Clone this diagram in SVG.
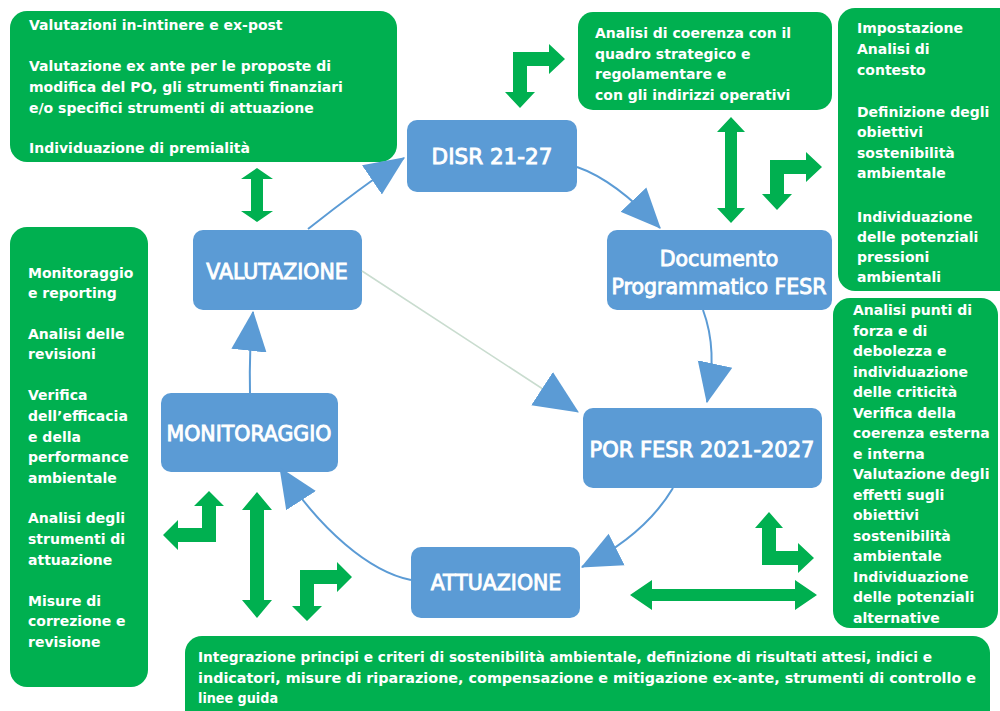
<svg xmlns="http://www.w3.org/2000/svg" width="1000" height="711" viewBox="0 0 1000 711">
<defs>
<style>
.gbox{fill:#00b050}
.bbox{fill:#5b9bd5}
.gt{font-family:"DejaVu Sans",Verdana,sans-serif;font-weight:bold;font-size:14px;fill:#ffffff}
.bt{font-family:"DejaVu Sans",Verdana,sans-serif;font-size:20.5px;fill:#ffffff;stroke:#ffffff;stroke-width:0.9;text-anchor:middle}
.ga{fill:#00b050}
.conn{fill:none;stroke:#5b9bd5;stroke-width:2}
.pale{fill:none;stroke:#c9dccf;stroke-width:1.6}
</style>
<marker id="head" markerUnits="userSpaceOnUse" markerWidth="40" markerHeight="40" viewBox="0 0 34 30" refX="33" refY="15" orient="auto">
<path d="M0,0 L34,15 L0,30 z" fill="#5b9bd5"/>
</marker>
<marker id="headL" markerUnits="userSpaceOnUse" markerWidth="44" markerHeight="44" viewBox="0 0 40 36" refX="39" refY="18" orient="auto">
<path d="M0,0 L40,18 L0,36 z" fill="#5b9bd5"/>
</marker>
</defs>
<rect width="1000" height="711" fill="#ffffff"/>

<!-- green boxes -->
<g id="box-valutazioni">
<rect class="gbox" x="10" y="11" width="387" height="151" rx="17"/>
<text class="gt"><tspan x="29" y="30">Valutazioni in-intinere e ex-post</tspan><tspan x="29" y="71">Valutazione ex ante per le proposte di</tspan><tspan x="29" y="92">modifica del PO, gli strumenti finanziari</tspan><tspan x="29" y="113">e/o specifici strumenti di attuazione</tspan><tspan x="29" y="153">Individuazione di premialità</tspan></text>
</g>
<g id="box-coerenza">
<rect class="gbox" x="578" y="12" width="254" height="98" rx="15"/>
<text class="gt"><tspan x="595" y="38">Analisi di coerenza con il</tspan><tspan x="595" y="59">quadro strategico e</tspan><tspan x="595" y="79">regolamentare e</tspan><tspan x="595" y="100">con gli indirizzi operativi</tspan></text>
</g>
<g id="box-impostazione">
<rect class="gbox" x="838" y="8" width="180" height="283" rx="17"/>
<text class="gt"><tspan x="857" y="33">Impostazione</tspan><tspan x="857" y="54">Analisi di</tspan><tspan x="857" y="75">contesto</tspan><tspan x="857" y="117">Definizione degli</tspan><tspan x="857" y="137">obiettivi</tspan><tspan x="857" y="158">sostenibilità</tspan><tspan x="857" y="178">ambientale</tspan><tspan x="857" y="222">Individuazione</tspan><tspan x="857" y="242">delle potenziali</tspan><tspan x="857" y="262">pressioni</tspan><tspan x="857" y="282">ambientali</tspan></text>
</g>
<g id="box-analisi-punti">
<rect class="gbox" x="833" y="298" width="165" height="330" rx="17"/>
<text class="gt"><tspan x="853" y="315">Analisi punti di</tspan><tspan x="853" y="335.5">forza e di</tspan><tspan x="853" y="356">debolezza e</tspan><tspan x="853" y="376.5">individuazione</tspan><tspan x="853" y="397">delle criticità</tspan><tspan x="853" y="417.5">Verifica della</tspan><tspan x="853" y="438">coerenza esterna</tspan><tspan x="853" y="458.5">e interna</tspan><tspan x="853" y="479">Valutazione degli</tspan><tspan x="853" y="499.5">effetti sugli</tspan><tspan x="853" y="520">obiettivi</tspan><tspan x="853" y="540.5">sostenibilità</tspan><tspan x="853" y="561">ambientale</tspan><tspan x="853" y="581.5">Individuazione</tspan><tspan x="853" y="602">delle potenziali</tspan><tspan x="853" y="622.5">alternative</tspan></text>
</g>
<g id="box-monitoraggio-attivita">
<rect class="gbox" x="10" y="227" width="138" height="460" rx="17"/>
<text class="gt"><tspan x="28" y="278">Monitoraggio</tspan><tspan x="28" y="298">e reporting</tspan><tspan x="28" y="339">Analisi delle</tspan><tspan x="28" y="359">revisioni</tspan><tspan x="28" y="400">Verifica</tspan><tspan x="28" y="421">dell’efficacia</tspan><tspan x="28" y="442">e della</tspan><tspan x="28" y="462">performance</tspan><tspan x="28" y="483">ambientale</tspan><tspan x="28" y="523">Analisi degli</tspan><tspan x="28" y="544">strumenti di</tspan><tspan x="28" y="565">attuazione</tspan><tspan x="28" y="606">Misure di</tspan><tspan x="28" y="626">correzione e</tspan><tspan x="28" y="647">revisione</tspan></text>
</g>
<g id="box-integrazione">
<rect class="gbox" x="185" y="636" width="805" height="95" rx="17"/>
<text class="gt"><tspan x="198" y="662" textLength="734" lengthAdjust="spacingAndGlyphs">Integrazione principi e criteri di sostenibilità ambientale, definizione di risultati attesi, indici e</tspan><tspan x="198" y="683" textLength="778" lengthAdjust="spacingAndGlyphs">indicatori, misure di riparazione, compensazione e mitigazione ex-ante, strumenti di controllo e</tspan><tspan x="198" y="703" textLength="80" lengthAdjust="spacingAndGlyphs">linee guida</tspan></text>
</g>

<!-- blue nodes -->
<g id="node-disr">
<rect class="bbox" x="407" y="120" width="170" height="72" rx="10"/>
<text class="bt" x="492" y="164" style="font-size:21.5px">DISR 21-27</text>
</g>
<g id="node-documento">
<rect class="bbox" x="607" y="230" width="225" height="80" rx="10"/>
<text class="bt" x="719" y="266">Documento</text>
<text class="bt" x="719" y="294">Programmatico FESR</text>
</g>
<g id="node-por">
<rect class="bbox" x="583" y="408" width="239" height="80" rx="10"/>
<text class="bt" x="702" y="457" style="font-size:21px">POR FESR 2021-2027</text>
</g>
<g id="node-attuazione">
<rect class="bbox" x="411" y="547" width="169" height="71" rx="10"/>
<text class="bt" x="496" y="590">ATTUAZIONE</text>
</g>
<g id="node-monitoraggio">
<rect class="bbox" x="161" y="393" width="177" height="79" rx="10"/>
<text class="bt" x="249" y="441">MONITORAGGIO</text>
</g>
<g id="node-valutazione">
<rect class="bbox" x="193" y="230" width="169" height="80" rx="10"/>
<text class="bt" x="277" y="279">VALUTAZIONE</text>
</g>

<!-- connectors -->
<g id="connectors">
<path class="conn" d="M308,229 Q360,188 404,158" marker-end="url(#head)"/>
<path class="conn" d="M577,167 Q615,180 660,228" marker-end="url(#head)"/>
<path class="conn" d="M703,310 Q718,350 707,402" marker-end="url(#head)"/>
<path class="conn" d="M673,488 Q645,535 582,567" marker-end="url(#head)"/>
<path class="conn" d="M411,580 C370,572 320,530 280,468" marker-end="url(#head)"/>
<path class="conn" d="M250,393 Q249,350 253,312" marker-end="url(#head)"/>
<path class="pale" d="M362,271 L578,412" marker-end="url(#headL)"/>
<!-- green block arrows -->
<polygon class="ga" points="257,168 273,179 263,179 263,211 273,211 257,222 241,211 251,211 251,179 241,179"/>
<polygon class="ga" points="731,117 745,132 737,132 737,208 745,208 731,223 717,208 725,208 725,132 717,132"/>
<polygon class="ga" points="257,492 272,510 264,510 264,600 272,600 257,618 242,600 250,600 250,510 242,510"/>
<polygon class="ga" points="630,595 652,580 652,589 795,589 795,580 817,595 795,610 795,601 652,601 652,610"/>
<polygon class="ga" points="513,52 549,52 549,44 565,59 549,74 549,66 527,66 527,92 535,92 520,108 505,92 513,92"/>
<polygon class="ga" points="770,160 806,160 806,152 822,167 806,182 806,174 784,174 784,194 792,194 777,210 762,194 770,194"/>
<polygon class="ga" points="762,565 762,528 755,528 769,512 783,528 776,528 776,551 798,551 798,543 814,558 798,573 798,565"/>
<polygon class="ga" points="216,542 216,506 224,506 209,491 194,506 202,506 202,528 178,528 178,520 163,535 178,550 178,542"/>
<polygon class="ga" points="300,570 337,570 337,562 352,577 337,592 337,584 314,584 314,606 322,606 307,621 292,606 300,606"/>
</g>
</svg>
